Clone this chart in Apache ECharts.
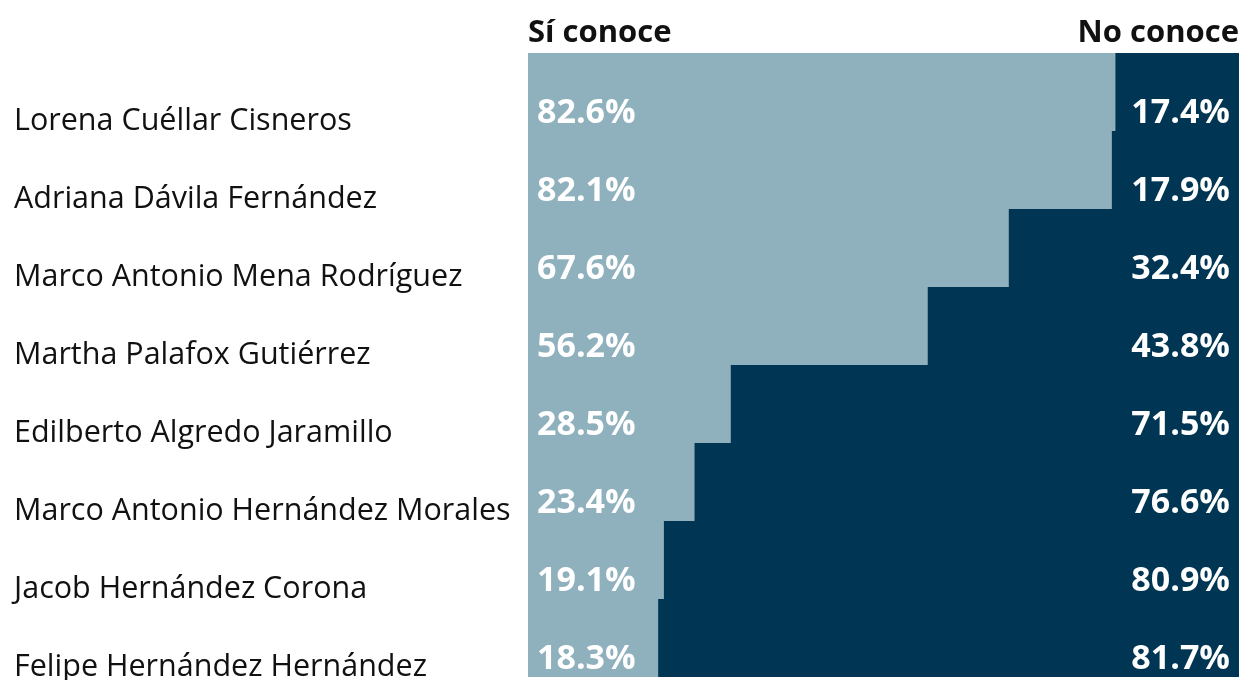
<!DOCTYPE html>
<html>
<head>
<meta charset="utf-8">
<script src="https://cdn.jsdelivr.net/npm/echarts@6/dist/echarts.min.js"></script>
<style>
  html, body { margin: 0; padding: 0; background: #fff; }
  #chart { width: 1239px; height: 680px; }
</style>
</head>
<body>
<div id="chart"></div>
<script>
// nombres de los candidatos
const names = [
  'Lorena Cuéllar Cisneros',
  'Adriana Dávila Fernández',
  'Marco Antonio Mena Rodríguez',
  'Martha Palafox Gutiérrez',
  'Edilberto Algredo Jaramillo',
  'Marco Antonio Hernández Morales',
  'Jacob Hernández Corona',
  'Felipe Hernández Hernández'
]
const siConoce = [82.6, 82.1, 67.6, 56.2, 28.5, 23.4, 19.1, 18.3]
const noConoce = [17.4, 17.9, 32.4, 43.8, 71.5, 76.6, 80.9, 81.7]

const fontName = 'Open Sans'
const chart = echarts.init(document.getElementById('chart'))

const valueLabel = (pos) => ({
  show: true,
  position: pos,
  distance: 9,
  offset: [0, 21],
  color: '#fff',
  fontFamily: fontName,
  fontWeight: 'bold',
  fontSize: 34,
  formatter: p => p.value.toFixed(1) + '%'
})

chart.setOption({
  animation: false,
  grid: { left: 528, right: 0, top: 53, height: 624, outerBoundsMode: 'none' },
  xAxis: { type: 'value', min: 0, max: 100, show: false },
  yAxis: {
    type: 'category',
    data: names,
    inverse: true,
    axisLine: { show: false },
    axisTick: { show: false },
    axisLabel: {
      align: 'left',
      verticalAlign: 'top',
      lineHeight: 58,
      margin: 514,
      color: '#111',
      fontFamily: fontName,
      fontSize: 30.5
    }
  },
  graphic: [
    { type: 'text', left: 528, top: 18, style: { text: 'Sí conoce', font: 'bold 31px "Open Sans"', fill: '#111' } },
    { type: 'text', right: 0, top: 18, style: { text: 'No conoce', font: 'bold 31px "Open Sans"', fill: '#111' } }
  ],
  series: [
    {
      name: 'Sí conoce',
      type: 'bar',
      stack: 'total',
      barWidth: '100%',
      barCategoryGap: 0,
      data: siConoce,
      // borde del mismo color para tapar las rayitas entre filas
      itemStyle: { color: '#8fb0bd', borderColor: '#8fb0bd', borderWidth: 2 },
      label: valueLabel('insideLeft')
    },
    {
      name: 'No conoce',
      type: 'bar',
      stack: 'total',
      barWidth: '100%',
      data: noConoce,
      itemStyle: { color: '#003654', borderColor: '#003654', borderWidth: 2 },
      label: valueLabel('insideRight')
    }
  ]
})
</script>
</body>
</html>
